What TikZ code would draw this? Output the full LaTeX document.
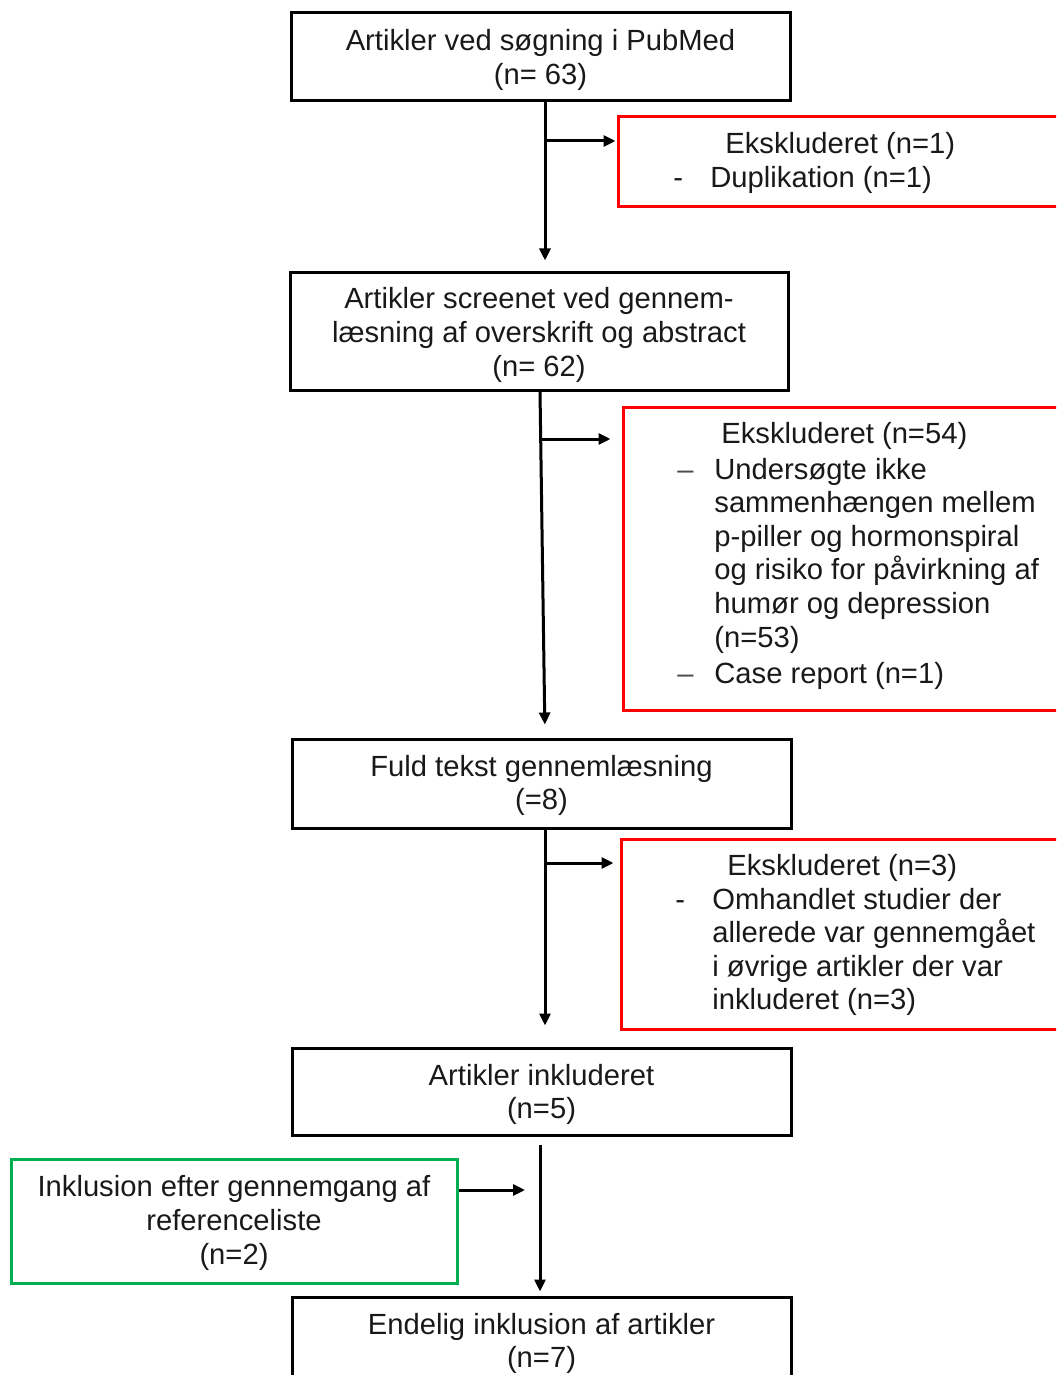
\documentclass[tikz,border=0pt]{standalone}
\usepackage{fontspec}
\setmainfont{Liberation Sans}
\usetikzlibrary{arrows.meta}
\definecolor{exred}{RGB}{255,0,0}
\definecolor{ingreen}{RGB}{0,176,80}
\definecolor{txtc}{RGB}{25,25,25}
\newcommand{\toppad}{\rule{0pt}{13.6pt}}
\begin{document}
\begin{tikzpicture}[x=0.5pt,y=-0.5pt,
  font=\fontsize{14.6}{16.8}\selectfont, text=txtc,
  box/.style={draw=black, line width=1.5pt, inner sep=0pt, align=center, minimum width=249.5pt},
  exbox/.style={draw=exred, line width=1.5pt, inner sep=0pt, minimum width=241pt},
  incbox/.style={draw=ingreen, line width=1.5pt, inner sep=0pt, align=center},
  arr/.style={line width=1.5pt, draw=black, -{Triangle[length=6pt,width=5.5pt]}},
  txt/.style={inner sep=0pt, anchor=base west}]
\useasboundingbox (0,0) rectangle (1056,1375);
\clip (0,0) rectangle (1056,1375);

% main boxes
\node[box, minimum height=44pt] (b1) at (540.5,57) {\toppad Artikler ved søgning i PubMed\\(n= 63)};
\node[box, minimum width=249pt, minimum height=59pt] (b2) at (539,331) {\rule{0pt}{14.6pt}Artikler screenet ved gennem-\\læsning af overskrift og abstract\\(n= 62)};
\node[box, minimum height=44.5pt] (b3) at (541.5,783.5) {\rule{0pt}{12.6pt}Fuld tekst gennemlæsning\\(=8)};
\node[box, minimum height=43.5pt] (b4) at (541.5,1091.5) {\toppad Artikler inkluderet\\(n=5)};
\node[box, minimum height=43.5pt] (b5) at (541.5,1340.5) {\toppad Endelig inklusion af artikler\\(n=7)};
\node[incbox, minimum width=223pt, minimum height=62pt] (g) at (234,1221) {\rule{0pt}{12.6pt}Inklusion efter gennemgang af\\referenceliste\\(n=2)};

% exclusion boxes
\node[exbox, minimum height=45pt] (r1) at (859,162) {};
\node[txt] (r1h) at (725,153.5) {Ekskluderet (n=1)};
\node[txt] (r1d) at (673,187.5) {-};
\node[txt] (r1t) at (710,187.5) {Duplikation (n=1)};

\node[exbox, minimum height=151.5pt, minimum width=238.5pt] (r2) at (861.5,558.5) {};
\node[txt] (r2h) at (721,443.5) {Ekskluderet (n=54)};
\node[txt, text=black!70] (r2d1) at (677,479) {–};
\node[txt] (r2t) at (714,479) {\begin{tabular}[t]{@{}l@{}}Undersøgte ikke\\sammenhængen mellem\\p-piller og hormonspiral\\og risiko for påvirkning af\\humør og depression\\(n=53)\end{tabular}};
\node[txt, text=black!70] (r2d2) at (677,683) {–};
\node[txt] (r2c) at (714,683) {Case report (n=1)};

\node[exbox, minimum height=95pt, minimum width=239.5pt] (r3) at (860.5,934) {};
\node[txt] (r3h) at (727,875) {Ekskluderet (n=3)};
\node[txt] (r3d) at (675,909) {-};
\node[txt] (r3t) at (712,909) {\begin{tabular}[t]{@{}l@{}}Omhandlet studier der\\allerede var gennemgået\\i øvrige artikler der var\\inkluderet (n=3)\end{tabular}};

% connectors
\coordinate (xa) at (545,0);
\coordinate (xb) at (540,0);
\coordinate (j1) at (545,141);
\coordinate (j2) at (541,439);
\coordinate (j3) at (545,863);
\coordinate (yg) at (0,1190);

\draw[arr, shorten >=5pt] (b1.south -| xa) -- (b2.north -| xa);
\draw[arr, shorten >=0.5pt] (j1) -- (j1 -| r1.west);
\draw[arr, shorten >=6.5pt] (b2.south -| xb) -- (b3.north -| xa);
\draw[arr, shorten >=5.5pt] (j2) -- (j2 -| r2.west);
\draw[arr, shorten >=10.5pt] (b3.south -| xa) -- (b4.north -| xa);
\draw[arr, shorten >=3pt] (j3) -- (j3 -| r3.west);
\draw[arr, shorten <=4pt, shorten >=2pt] (b4.south -| xb) -- (b5.north -| xb);
\draw[arr, shorten >=7.5pt] (g.east |- yg) -- (yg -| xb);
\end{tikzpicture}
\end{document}
